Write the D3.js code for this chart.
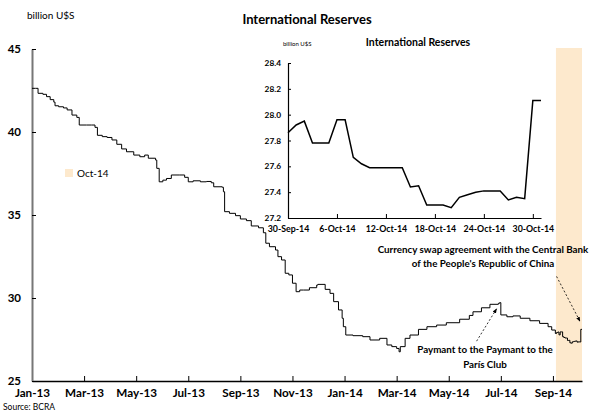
<!DOCTYPE html>
<html><head><meta charset="utf-8">
<script src="https://cdn.jsdelivr.net/npm/d3@7"></script>
<style>
body{margin:0;background:#fff;font-family:Lato,"Liberation Sans",sans-serif}
text{fill:#000}
</style></head><body>
<script>
// business-day index since 2-Jan-13, reserves in billion U$S
const mainDay=[0,3,5,9,12,15,18,19,22,26,29,33,37,39,45,49,52,54,58,62,66,70,74,78,84,89,93,96,102,103,
  105,108,111,115,122,126,129,133,139,144,148,150,157,158,159,163,168,172,177,181,187,191,193,196,201,203,206,209,212,215,
  218,221,224,229,235,236,242,246,249,253,256,257,259,265,273,279,287,293,297,301,303,304,308,312,319,326,334,342,353,361,
  364,371,378,385,386,387,392,397,403,411,419,426,429];
const mainReserves=[42.63,42.63,42.33,42.27,42.13,41.95,41.80,41.58,41.52,41.45,41.33,41.02,40.88,40.42,40.42,40.42,40.28,39.80,39.72,39.67,
  39.52,39.26,38.98,38.81,38.61,38.51,38.61,38.42,38.31,37.81,37.00,37.10,37.20,37.41,37.41,37.27,37.00,37.06,37.00,37.02,
  36.94,36.70,36.67,36.40,35.20,35.10,34.96,34.76,34.66,34.34,34.23,33.93,33.30,33.09,32.89,32.49,32.29,31.49,31.39,30.89,
  30.38,30.48,30.48,30.62,30.78,30.82,30.52,30.28,29.78,29.28,28.78,28.27,27.77,27.73,27.67,27.47,27.57,27.17,27.07,26.96,
  26.76,27.07,27.57,27.77,28.11,28.27,28.37,28.51,28.72,28.95,29.17,29.41,29.62,29.68,29.72,28.98,28.87,28.92,28.78,28.63,
  28.47,28.27,28.07];

// inset: daily values 30-Sep-14 .. 31-Oct-14
const insetReserves=[27.86,27.92,27.95,27.78,27.78,27.78,27.96,27.96,27.67,27.62,27.59,27.59,27.59,27.59,27.59,27.44,
  27.45,27.30,27.30,27.30,27.28,27.36,27.38,27.40,27.41,27.41,27.41,27.34,27.36,27.35,28.11,28.11];
const holidays=["2014-10-13"];

const xTickDay=[0,43,86,129,172,215,258,301,344,387,430];
const xTickLabel=["Jan-13","Mar-13","May-13","Jul-13","Sep-13","Nov-13","Jan-14","Mar-14","May-14","Jul-14","Sep-14"];
const yTicks=[25,30,35,40,45];
const insetYTicks=[27.2,27.4,27.6,27.8,28.0,28.2,28.4];
const insetTickLabel=["30-Sep-14","6-Oct-14","12-Oct-14","18-Oct-14","24-Oct-14","30-Oct-14"];

const W=592,H=418;
const band="#fde9cd";
const svg=d3.select("body").append("svg").attr("width",W).attr("height",H);

const insetDates=d3.timeDay.range(new Date(2014,8,30),new Date(2014,10,1));
const fmt=d3.timeFormat("%Y-%m-%d");

// main data = history + Sep 30 + October business days
const data=mainDay.map((d,i)=>({i:d,v:mainReserves[i]}));
data.push({i:432,v:insetReserves[0]});
let k=433;
insetDates.forEach((d,j)=>{
  if(j==0)return;
  const wd=d.getDay();
  if(wd==0||wd==6||holidays.includes(fmt(d)))return;
  data.push({i:k++,v:insetReserves[j]});
});
const lastDay=k-1;

const x=d3.scaleLinear().domain([0,lastDay]).range([32,582]);
const y=d3.scaleLinear().domain([25,45]).range([381,49]);

// October band
svg.append("rect").attr("x",x(432.5)).attr("y",48).attr("width",x(lastDay)-x(432.5)).attr("height",y(25)-48).attr("fill",band);

// axes
const xAxis=d3.axisBottom(x).tickValues(xTickDay).tickFormat((d,i)=>xTickLabel[i]).tickSizeInner(-5).tickSizeOuter(0).tickPadding(8);
const gx=svg.append("g").attr("transform",`translate(0,${y(25)})`).call(xAxis);
gx.select(".domain").attr("stroke","#000").attr("stroke-width",1.5);
gx.selectAll("text").attr("font-size",11.7).attr("font-weight","bold").attr("font-family","Lato");

const yAxis=d3.axisLeft(y).tickValues(yTicks).tickSizeInner(-4).tickSizeOuter(0).tickPadding(11);
const gy=svg.append("g").attr("transform",`translate(${x(0)},0)`).call(yAxis);
gy.select(".domain").attr("stroke","#777").attr("stroke-width",2);
gy.selectAll("text").attr("font-size",11.5).attr("font-weight","bold").attr("font-family","Lato");

// main line
const line=d3.line().x(d=>x(d.i)).y(d=>y(d.v)).curve(d3.curveStepAfter);
svg.append("path").datum(data).attr("d",line).attr("fill","none").attr("stroke","#000").attr("stroke-width",1);

// titles
svg.append("text").attr("x",307).attr("y",24).attr("text-anchor","middle").attr("font-size",13).attr("font-weight","bold").text("International Reserves");
svg.append("text").attr("x",27).attr("y",19).attr("font-size",10).text("billion U$S");
svg.append("text").attr("x",3).attr("y",410).attr("font-size",8.5).text("Source: BCRA");

// legend
svg.append("rect").attr("x",65).attr("y",169).attr("width",8).attr("height",8).attr("fill",band);
svg.append("text").attr("x",77).attr("y",177).attr("font-size",10).text("Oct-14");

// annotations
svg.append("defs").append("marker").attr("id","ah").attr("viewBox","0 0 10 10").attr("refX",9).attr("refY",5)
  .attr("markerWidth",6).attr("markerHeight",6).attr("orient","auto")
  .append("path").attr("d","M0,1L10,5L0,9Z").attr("fill","#000");
function arrow(i0,v0,i1,v1){
  svg.append("line").attr("x1",x(i0)).attr("y1",y(v0)).attr("x2",x(i1)).attr("y2",y(v1))
    .attr("stroke","#000").attr("stroke-width",0.8).attr("stroke-dasharray","2,2").attr("marker-end","url(#ah)");
}
arrow(433,31.3,452.3,28.6);
arrow(367,27.4,383.5,29.35);
const ann=[["Currency swap agreement with the Central Bank",483,253],["of the People's Republic of China",483,267],
  ["Paymant to the Paymant to the",485,353],["París Club",485,368]];
svg.selectAll(".ann").data(ann).enter().append("text").attr("class","ann")
  .attr("x",d=>d[1]).attr("y",d=>d[2]).attr("text-anchor","middle").attr("font-size",9.8).attr("font-weight","bold").text(d=>d[0]);

// inset
const xi=d3.scaleTime().domain([insetDates[0],insetDates[insetDates.length-1]]).range([288,541]);
const yi=d3.scaleLinear().domain([27.2,28.4]).range([218,63]);
const ix=d3.axisBottom(xi).tickValues(insetTickLabel.map((d,i)=>insetDates[i*6])).tickFormat((d,i)=>insetTickLabel[i])
  .tickSizeInner(-4).tickSizeOuter(0).tickPadding(8);
const gix=svg.append("g").attr("transform",`translate(0,218)`).call(ix);
gix.selectAll("text").attr("font-size",8.8).attr("font-weight","bold").attr("font-family","Lato");
const iy=d3.axisLeft(yi).tickValues(insetYTicks).tickFormat(d3.format(".1f")).tickSizeInner(-3).tickSizeOuter(0).tickPadding(7);
const giy=svg.append("g").attr("transform",`translate(288,0)`).call(iy);
giy.selectAll("text").attr("font-size",8.3).attr("font-weight","bold").attr("font-family","Lato");
[gix,giy].forEach(g=>g.select(".domain").attr("stroke","#000").attr("stroke-width",1.2));

const iline=d3.line().x((d,j)=>xi(insetDates[j])).y(d=>yi(d));
svg.append("path").datum(insetReserves).attr("d",iline).attr("fill","none").attr("stroke","#000").attr("stroke-width",1.5);

svg.append("text").attr("x",418).attr("y",46).attr("text-anchor","middle").attr("font-size",10.5).attr("font-weight","bold").text("International Reserves");
svg.append("text").attr("x",283).attr("y",46).attr("font-size",6).text("billion U$S");
</script>
</body></html>
